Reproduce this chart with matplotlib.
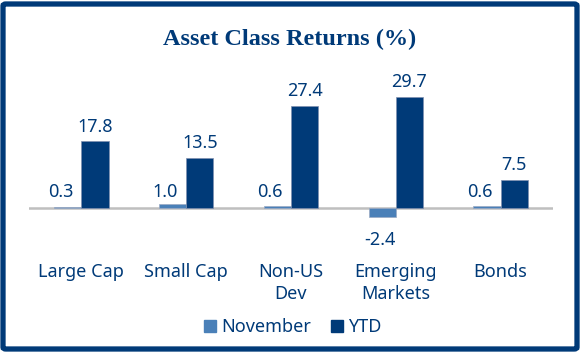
import matplotlib
matplotlib.use("Agg")
import matplotlib.pyplot as plt
from matplotlib.patches import FancyBboxPatch, Patch
import numpy as np

categories = ["Large Cap", "Small Cap", "Non-US\nDev", "Emerging\nMarkets", "Bonds"]
november = [0.3, 1.0, 0.6, -2.4, 0.6]
ytd = [17.8, 13.5, 27.4, 29.7, 7.5]

navy = "#003A78"
light = "#4A80B8"

plt.rcParams["font.family"] = ["Noto Sans", "DejaVu Sans"]
fs = 13

fig = plt.figure(figsize=(5.8, 3.52), dpi=100)
ax = fig.add_axes([29 / 580, 125.3 / 352, 524 / 580, 138.4 / 352])

x = np.arange(len(categories))
w = 0.26
b1 = ax.bar(x - w / 2, november, w, color=light, edgecolor="#9aaac4", linewidth=0.5, label="November")
b2 = ax.bar(x + w / 2, ytd, w, color=navy, edgecolor="#8090b0", linewidth=0.5, label="YTD")

for rect, v in zip(b1, november):
    cx = rect.get_x() + rect.get_width() / 2 - 0.07
    if v >= 0:
        ax.annotate(f"{v:.1f}", (cx, 0), xytext=(0, 5), textcoords="offset points",
                    ha="center", va="bottom", fontsize=fs, color=navy)
    else:
        ax.annotate(f"{v:.1f}", (cx + 0.05, v), xytext=(0, -10), textcoords="offset points",
                    ha="center", va="top", fontsize=fs, color=navy)
for rect, v in zip(b2, ytd):
    cx = rect.get_x() + rect.get_width() / 2
    ax.annotate(f"{v:.1f}", (cx, v), xytext=(0, 4), textcoords="offset points",
                ha="center", va="bottom", fontsize=fs, color=navy)

ax.axhline(0, color="#BFBFBF", lw=1.8, zorder=0)
ax.set_xlim(-0.5, 4.5)
ax.set_ylim(-5, 32)
ax.set_yticks([])
ax.set_xticks(x)
ax.set_xticklabels(categories, fontsize=fs, color=navy, linespacing=1.3, va="top")
ax.tick_params(axis="x", length=0, pad=26)
for s in ax.spines.values():
    s.set_visible(False)

fig.text(0.5, 1 - 39 / 352, "Asset Class Returns (%)", ha="center", va="center",
         family="Liberation Serif", fontweight="bold", fontsize=17.5, color=navy)

handles = [Patch(color=light, label="November"), Patch(color=navy, label="YTD")]
fig.legend(handles=handles, loc="center", bbox_to_anchor=(0.505, 25 / 352), ncol=2, frameon=False,
           fontsize=fs, labelcolor=navy, handlelength=0.65, handleheight=0.65,
           handletextpad=0.3, columnspacing=1.1)

border = FancyBboxPatch((3 / 580, 3 / 352), 574 / 580, 345 / 352,
                        boxstyle="round,pad=0,rounding_size=0.005", transform=fig.transFigure,
                        fill=False, edgecolor="#003A78", linewidth=3.8)
fig.patches.append(border)

fig.savefig("out.png", dpi=100)
